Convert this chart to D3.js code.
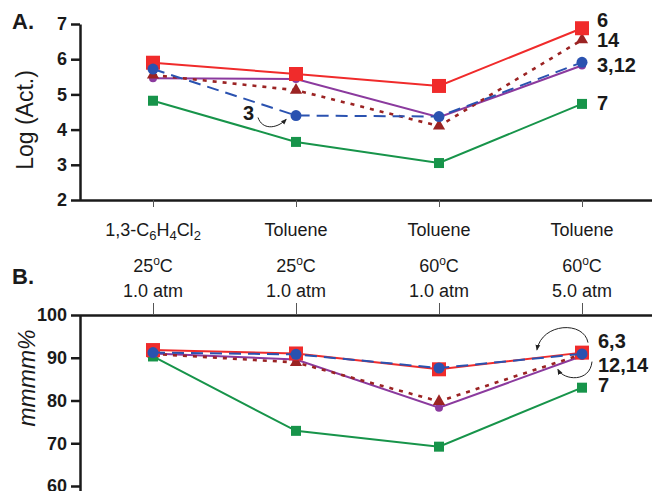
<!DOCTYPE html>
<html>
<head>
<meta charset="utf-8">
<script src="https://cdn.jsdelivr.net/npm/d3@7"></script>
<style>
  body { margin: 0; background: #fff; }
  svg { display: block; font-family: "Liberation Sans", Arial, sans-serif; }
</style>
</head>
<body>
<div id="chart"></div>
<script>
// conditions along the x axis
const solvents = ['1,3-C6H4Cl2', 'Toluene', 'Toluene', 'Toluene'];
const temps = ['25', '25', '60', '60'];
const pressures = ['1.0 atm', '1.0 atm', '1.0 atm', '5.0 atm'];

// panel A: log(activity)
const actCat6 = [5.9, 5.58, 5.24, 6.88];
const actCat7 = [4.82, 3.65, 3.05, 4.73];
const actCat3 = [5.72, 4.4, 4.37, 5.91];
const actCat12 = [5.46, 5.44, 4.35, 5.82];
const actCat14 = [5.55, 5.12, 4.1, 6.55];

// panel B: mmmm%
const mmCat6 = [91.8, 91.0, 87.3, 91.2];
const mmCat7 = [90.3, 72.9, 69.2, 83.0];
const mmCat3 = [91.2, 90.8, 87.6, 90.9];
const mmCat12 = [91.0, 89.6, 78.3, 90.4];
const mmCat14 = [90.9, 88.9, 79.8, 90.8];

const ticksA = [2, 3, 4, 5, 6, 7];
const ticksB = [60, 70, 80, 90, 100];

const width = 652;
const height = 491;

const svg = d3.select('#chart').append('svg')
  .attr('width', width)
  .attr('height', height);

const defs = svg.append('defs');
defs.append('marker')
  .attr('id', 'arrow')
  .attr('viewBox', '0 0 10 10')
  .attr('refX', 8).attr('refY', 5)
  .attr('markerWidth', 6).attr('markerHeight', 6)
  .attr('orient', 'auto')
  .append('path')
  .attr('d', 'M0,1 L10,5 L0,9 z')
  .attr('fill', '#222');

const x = d3.scalePoint()
  .domain(d3.range(solvents.length))
  .range([153, 582]);

const yA = d3.scaleLinear().domain([2, 7]).range([200, 24]);
const yB = d3.scaleLinear().domain([60, 100]).range([486, 315]);

const axisColor = '#1a1a1a';

// series styles (draw order matters: blue on top)
const styles = {
  c12: { color: '#8b3a9e', dash: null, shape: 'circle', size: 8 },
  c14: { color: '#9b2323', dash: '4,6', shape: 'triangle', size: 12 },
  c7: { color: '#17944a', dash: null, shape: 'square', size: 10 },
  c6: { color: '#f02b2b', dash: null, shape: 'square', size: 14 },
  c3: { color: '#2a52b0', dash: '12,7', shape: 'circle', size: 11 },
};

function drawSeries(g, y, seriesMap) {
  Object.keys(styles).forEach(key => {
    const st = styles[key];
    const vals = seriesMap[key];
    const line = d3.line().x((d, i) => x(i)).y(d => y(d));
    g.append('path')
      .datum(vals)
      .attr('fill', 'none')
      .attr('stroke', st.color)
      .attr('stroke-width', key === 'c14' ? 2.6 : 2)
      .attr('stroke-dasharray', st.dash)
      .attr('d', line);
    const sym = st.shape === 'square' ? d3.symbolSquare
      : st.shape === 'triangle' ? d3.symbolTriangle : d3.symbolCircle;
    const area = st.shape === 'circle' ? Math.PI * (st.size / 2) ** 2
      : st.shape === 'triangle' ? st.size * st.size * 0.45 : st.size * st.size;
    g.selectAll(null)
      .data(vals)
      .enter()
      .append('path')
      .attr('transform', (d, i) => `translate(${x(i)},${y(d)})`)
      .attr('d', d3.symbol().type(sym).size(area))
      .attr('fill', st.color);
  });
}

function styleLeftAxis(g) {
  g.select('.domain').attr('stroke-width', 2.5).attr('stroke', axisColor);
  g.selectAll('.tick line').attr('stroke-width', 2.5).attr('stroke', axisColor);
  g.selectAll('.tick text')
    .attr('font-size', 18).attr('font-weight', 'bold').attr('fill', axisColor).attr('x', -13);
}

// ---------- panel A ----------
const gA = svg.append('g');

gA.append('g')
  .attr('transform', 'translate(80,0)')
  .call(d3.axisLeft(yA).tickValues(ticksA).tickSize(9).tickSizeOuter(0).tickFormat(d3.format('d')))
  .call(styleLeftAxis);

gA.append('g')
  .attr('transform', 'translate(0,200)')
  .call(d3.axisBottom(x).tickSize(7).tickFormat(''))
  .call(g => g.select('.domain').attr('d', `M80,0.5H${width}`)
    .attr('stroke-width', 2.5).attr('stroke', axisColor))
  .call(g => g.selectAll('.tick line').attr('stroke', '#555').attr('stroke-width', 1));

drawSeries(gA, yA, { c6: actCat6, c7: actCat7, c3: actCat3, c12: actCat12, c14: actCat14 });

svg.append('text')
  .attr('transform', 'translate(33,120) rotate(-90)')
  .attr('text-anchor', 'middle')
  .attr('font-size', 23)
  .attr('fill', axisColor)
  .text('Log (Act.)');

svg.append('text')
  .attr('x', 12).attr('y', 29)
  .attr('font-size', 22).attr('font-weight', 'bold').attr('fill', axisColor)
  .text('A.');

const lastX = x(3);
// end-of-line labels, panel A (baselines)
const labelsA = [
  { t: '6', y: 27 },
  { t: '14', y: 47 },
  { t: '3,12', y: 72 },
  { t: '7', y: 110 },
];
svg.selectAll(null).data(labelsA).enter().append('text')
  .attr('x', lastX + 15)
  .attr('y', d => d.y)
  .attr('font-size', 20).attr('font-weight', 'bold').attr('fill', axisColor)
  .text(d => d.t);

// "3" callout in panel A
const p3x = x(1);
const p3y = yA(actCat3[1]);
svg.append('text')
  .attr('x', p3x - 53).attr('y', p3y + 4)
  .attr('font-size', 20).attr('font-weight', 'bold').attr('fill', axisColor)
  .text('3');
svg.append('path')
  .attr('d', `M${p3x - 38},${p3y + 2} C${p3x - 34},${p3y + 14} ${p3x - 20},${p3y + 14} ${p3x - 10},${p3y + 4}`)
  .attr('fill', 'none').attr('stroke', '#222').attr('stroke-width', 1)
  .attr('marker-end', 'url(#arrow)');

// ---------- condition labels ----------
const cond = svg.append('g').attr('fill', axisColor).attr('font-size', 18).attr('text-anchor', 'middle');

solvents.forEach((s, i) => {
  const t = cond.append('text').attr('x', x(i)).attr('y', 236);
  if (s === '1,3-C6H4Cl2') {
    t.append('tspan').text('1,3-C');
    t.append('tspan').attr('font-size', 13).attr('dy', 4).text('6');
    t.append('tspan').attr('dy', -4).text('H');
    t.append('tspan').attr('font-size', 13).attr('dy', 4).text('4');
    t.append('tspan').attr('dy', -4).text('Cl');
    t.append('tspan').attr('font-size', 13).attr('dy', 4).text('2');
  } else {
    t.text(s);
  }
});

temps.forEach((s, i) => {
  const t = cond.append('text').attr('x', x(i)).attr('y', 272);
  t.append('tspan').text(s);
  t.append('tspan').attr('font-size', 12).attr('dy', -7).text('o');
  t.append('tspan').attr('dy', 7).text('C');
});

pressures.forEach((s, i) => {
  cond.append('text').attr('x', x(i)).attr('y', 297).text(s);
});

svg.append('text')
  .attr('x', 12).attr('y', 284)
  .attr('font-size', 22).attr('font-weight', 'bold').attr('fill', axisColor)
  .text('B.');

// ---------- panel B ----------
const gB = svg.append('g');

gB.append('g')
  .attr('transform', 'translate(80,0)')
  .call(d3.axisLeft(yB).tickValues(ticksB).tickSize(9).tickSizeOuter(0))
  .call(styleLeftAxis)
  .call(g => g.select('.domain').attr('d', `M0.5,315V${height + 5}`));

gB.append('g')
  .attr('transform', 'translate(0,315)')
  .call(d3.axisTop(x).tickSize(12).tickFormat(''))
  .call(g => g.select('.domain').attr('d', `M80,0.5H${width}`)
    .attr('stroke-width', 2.5).attr('stroke', axisColor))
  .call(g => g.selectAll('.tick line').attr('stroke', '#555').attr('stroke-width', 1));

drawSeries(gB, yB, { c6: mmCat6, c7: mmCat7, c3: mmCat3, c12: mmCat12, c14: mmCat14 });

svg.append('text')
  .attr('transform', 'translate(35,378) rotate(-90)')
  .attr('text-anchor', 'middle')
  .attr('font-size', 23).attr('font-style', 'italic')
  .attr('fill', axisColor)
  .text('mmmm%');

const labelsB = [
  { t: '6,3', y: 348 },
  { t: '12,14', y: 372 },
  { t: '7', y: 392 },
];
svg.selectAll(null).data(labelsB).enter().append('text')
  .attr('x', lastX + 16)
  .attr('y', d => d.y)
  .attr('font-size', 20).attr('font-weight', 'bold').attr('fill', axisColor)
  .text(d => d.t);

// curved callout arrows in panel B
const qy = yB(mmCat6[3]);
svg.append('path')
  .attr('d', `M${lastX + 6},${qy - 10} C${lastX + 2},${qy - 32} ${lastX - 40},${qy - 30} ${lastX - 45},${qy - 3}`)
  .attr('fill', 'none').attr('stroke', '#222').attr('stroke-width', 1)
  .attr('marker-end', 'url(#arrow)');
svg.append('path')
  .attr('d', `M${lastX + 10},${qy + 9} C${lastX + 8},${qy + 30} ${lastX - 18},${qy + 28} ${lastX - 24},${qy + 17}`)
  .attr('fill', 'none').attr('stroke', '#222').attr('stroke-width', 1)
  .attr('marker-end', 'url(#arrow)');
</script>
</body>
</html>
